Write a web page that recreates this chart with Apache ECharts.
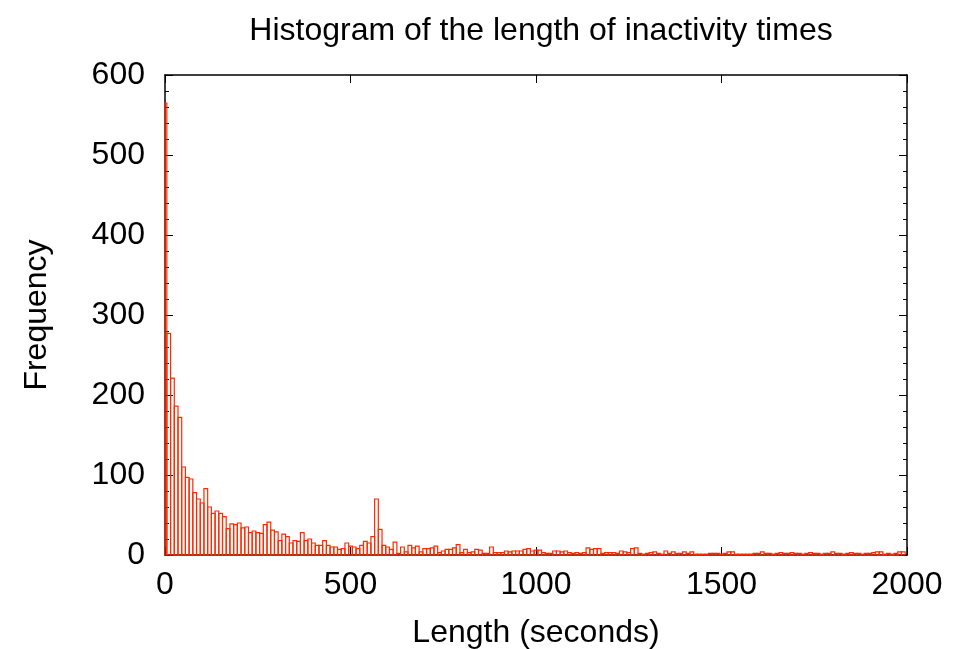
<!DOCTYPE html>
<html>
<head>
<meta charset="utf-8">
<title>Histogram of the length of inactivity times</title>
<script src="https://cdn.jsdelivr.net/npm/echarts@6/dist/echarts.min.js"></script>
<style>
  html, body { margin: 0; padding: 0; background: #fff; }
  #main { width: 965px; height: 649px; }
</style>
</head>
<body>
<div id="main"></div>
<script>
// frequency per 10 s bin, bins centred on 0, 10, 20, ...
const counts = [
  565, 277, 221, 186, 172, 110, 97, 95, 78, 70,
  65, 83, 60, 52, 55, 52, 48, 33, 39, 38,
  40, 34, 35, 28, 30, 28, 27, 38, 41, 31,
  29, 18, 26, 23, 15, 18, 17, 28, 18, 20,
  15, 12, 12, 18, 12, 10, 10, 7, 8, 15,
  11, 10, 8, 12, 17, 15, 23, 70, 32, 12,
  10, 7, 16, 2, 10, 4, 12, 9, 11, 4,
  8, 8, 9, 11, 3, 5, 7, 7, 9, 13,
  3, 7, 3, 4, 7, 6, 2, 2, 10, 3,
  3, 3, 5, 4, 5, 5, 5, 7, 8, 5,
  6, 6, 3, 2, 2, 5, 5, 4, 5, 3,
  2, 3, 2, 3, 9, 7, 8, 8, 2, 3,
  3, 3, 2, 5, 4, 3, 8, 9, 2, 1,
  2, 3, 4, 2, 1, 5, 2, 4, 2, 2,
  4, 2, 4, 1, 1, 1, 1, 2, 2, 2,
  1, 2, 4, 4, 1, 1, 1, 1, 1, 2,
  2, 4, 2, 2, 1, 2, 3, 2, 2, 3,
  2, 2, 1, 2, 3, 2, 2, 1, 2, 2,
  4, 2, 2, 1, 2, 3, 2, 2, 1, 2,
  2, 3, 4, 4, 1, 2, 1, 2, 4, 4
]
const binWidth = 10
const binCentres = counts.map((c, i) => i * binWidth)
const xTicks = [0, 500, 1000, 1500, 2000]
const yTicks = [0, 100, 200, 300, 400, 500, 600]

const font = '"Liberation Sans", Helvetica, Arial, sans-serif'
const barColor = '#ff2a00'

const chart = echarts.init(document.getElementById('main'))

const tickX = {
  type: 'value',
  min: xTicks[0],
  max: xTicks[xTicks.length - 1],
  interval: xTicks[1] - xTicks[0],
  splitLine: { show: false },
  axisLine: { onZero: false, lineStyle: { color: '#000', width: 1.5 } },
  axisTick: { inside: true, length: 8, lineStyle: { color: '#000' } }
}
const tickY = {
  type: 'value',
  min: yTicks[0],
  max: yTicks[yTicks.length - 1],
  interval: yTicks[1] - yTicks[0],
  splitLine: { show: false },
  axisLine: { show: true, onZero: false, lineStyle: { color: '#000', width: 1.5 } },
  axisTick: { show: true, inside: true, length: 8, lineStyle: { color: '#000' } },
  minorTick: { show: true, splitNumber: 5, length: 4, lineStyle: { color: '#000' } }
}

chart.setOption({
  animation: false,
  backgroundColor: '#fff',
  title: {
    text: 'Histogram of the length of inactivity times',
    left: 536,
    top: 10,
    textAlign: 'center',
    textStyle: { fontFamily: font, fontSize: 32, fontWeight: 'normal', color: '#000' }
  },
  grid: { left: 165, right: 58, top: 75, bottom: 94, outerBoundsMode: 'none', containLabel: false },
  xAxis: [
    Object.assign({}, tickX, {
      position: 'bottom',
      name: 'Length (seconds)',
      nameLocation: 'middle',
      nameGap: 62,
      nameTextStyle: { fontFamily: font, fontSize: 32, color: '#000' },
      axisLabel: { margin: 14, fontFamily: font, fontSize: 32, color: '#000', formatter: v => String(v) }
    }),
    Object.assign({}, tickX, { position: 'top', axisLabel: { show: false } })
  ],
  yAxis: [
    Object.assign({}, tickY, {
      position: 'left',
      name: 'Frequency',
      nameLocation: 'middle',
      nameGap: 112,
      nameRotate: 90,
      nameTextStyle: { fontFamily: font, fontSize: 32, color: '#000' },
      axisLabel: { margin: 20, fontFamily: font, fontSize: 32, color: '#000' }
    }),
    Object.assign({}, tickY, { position: 'right', axisLabel: { show: false } })
  ],
  series: [
    {
      type: 'custom',
      xAxisIndex: 0,
      yAxisIndex: 0,
      data: binCentres.map((x, i) => [x, counts[i]]),
      renderItem: function (params, api) {
        const x = api.value(0)
        const top = api.coord([x - binWidth / 2, api.value(1)])
        const bottom = api.coord([x + binWidth / 2, 0])
        const rect = echarts.graphic.clipRectByRect(
          { x: top[0], y: top[1], width: bottom[0] - top[0], height: bottom[1] - top[1] },
          { x: params.coordSys.x, y: params.coordSys.y, width: params.coordSys.width, height: params.coordSys.height }
        )
        return rect && {
          type: 'rect',
          shape: rect,
          style: { fill: 'none', stroke: barColor, lineWidth: 1.2 }
        }
      }
    }
  ]
})
</script>
</body>
</html>
